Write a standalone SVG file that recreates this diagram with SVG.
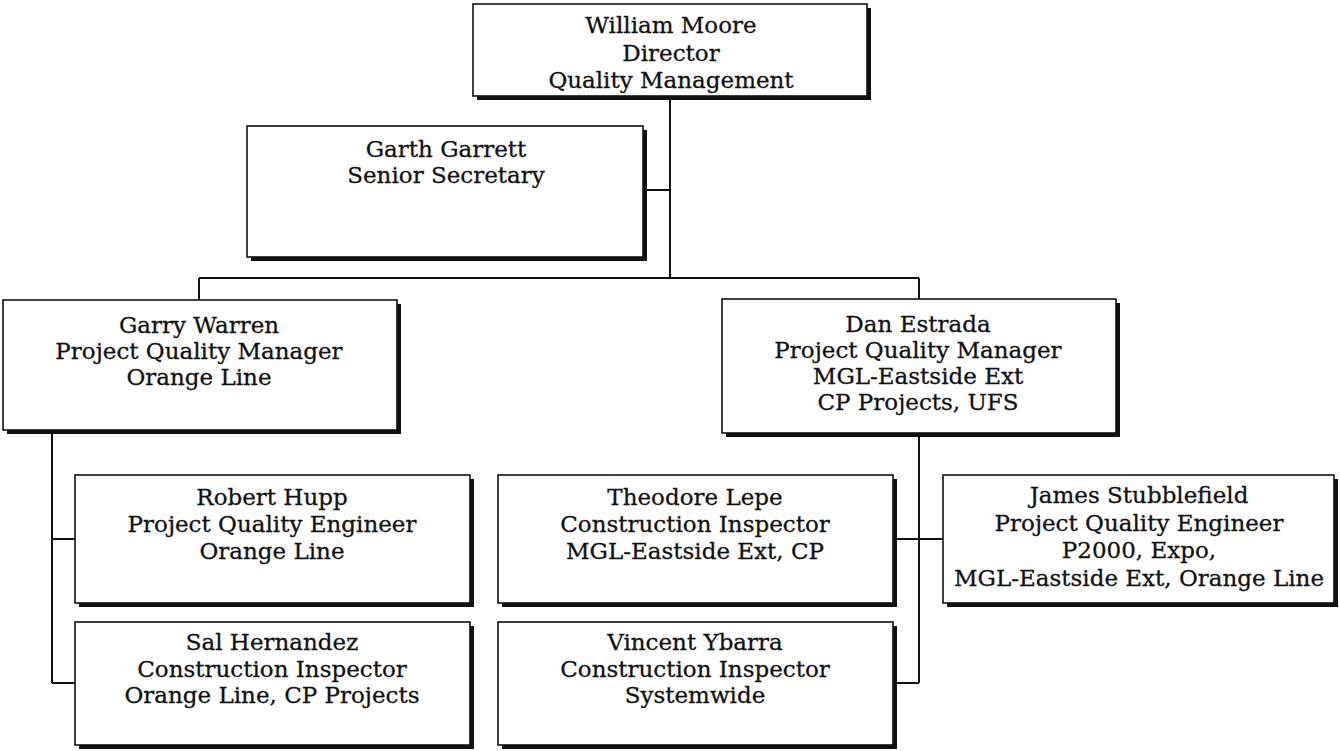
<svg xmlns="http://www.w3.org/2000/svg" width="1340" height="751" viewBox="0 0 1340 751">
<style>
.bg{fill:#ffffff}
.sh{fill:#111111}
.box{fill:#ffffff;stroke:#111111;stroke-width:1.6}
.conn{stroke:#111111;stroke-width:2;fill:none}
.t{font-family:"DejaVu Serif","Liberation Serif",serif;font-size:23px;fill:#111111;stroke:#111111;stroke-width:0.3;text-anchor:middle}
</style>
<rect class="bg" x="0" y="0" width="1340" height="751"/>
<g id="connectors">
<path class="conn" d="M670 96 V278 M643 190 H670 M199 278 H919 M199 278 V300 M919 278 V299"/>
<path class="conn" d="M52 430 V683 M52 539 H75 M52 683 H75"/>
<path class="conn" d="M919 433 V683 M893 539 H943 M893 683 H919"/>
</g>
<g id="moore">
<rect class="sh" x="477" y="8" width="394" height="92"/>
<rect class="box" x="473" y="4" width="394" height="92"/>
<text class="t" x="671" y="33">William Moore</text>
<text class="t" x="671" y="61">Director</text>
<text class="t" x="671" y="88">Quality Management</text>
</g>
<g id="garrett">
<rect class="sh" x="251" y="130" width="396" height="131"/>
<rect class="box" x="247" y="126" width="396" height="131"/>
<text class="t" x="446" y="157">Garth Garrett</text>
<text class="t" x="446" y="183">Senior Secretary</text>
</g>
<g id="warren">
<rect class="sh" x="7" y="304" width="394" height="130"/>
<rect class="box" x="3" y="300" width="394" height="130"/>
<text class="t" x="199" y="333">Garry Warren</text>
<text class="t" x="199" y="359">Project Quality Manager</text>
<text class="t" x="199" y="385">Orange Line</text>
</g>
<g id="estrada">
<rect class="sh" x="726" y="303" width="394" height="134"/>
<rect class="box" x="722" y="299" width="394" height="134"/>
<text class="t" x="918" y="332">Dan Estrada</text>
<text class="t" x="918" y="358">Project Quality Manager</text>
<text class="t" x="918" y="384">MGL-Eastside Ext</text>
<text class="t" x="918" y="410">CP Projects, UFS</text>
</g>
<g id="hupp">
<rect class="sh" x="79" y="479" width="395" height="128"/>
<rect class="box" x="75" y="475" width="395" height="128"/>
<text class="t" x="272" y="505">Robert Hupp</text>
<text class="t" x="272" y="532">Project Quality Engineer</text>
<text class="t" x="272" y="559">Orange Line</text>
</g>
<g id="hernandez">
<rect class="sh" x="79" y="626" width="395" height="123"/>
<rect class="box" x="75" y="622" width="395" height="123"/>
<text class="t" x="272" y="650">Sal Hernandez</text>
<text class="t" x="272" y="677">Construction Inspector</text>
<text class="t" x="272" y="703">Orange Line, CP Projects</text>
</g>
<g id="lepe">
<rect class="sh" x="502" y="479" width="395" height="128"/>
<rect class="box" x="498" y="475" width="395" height="128"/>
<text class="t" x="695" y="505">Theodore Lepe</text>
<text class="t" x="695" y="532">Construction Inspector</text>
<text class="t" x="695" y="559">MGL-Eastside Ext, CP</text>
</g>
<g id="ybarra">
<rect class="sh" x="502" y="626" width="395" height="123"/>
<rect class="box" x="498" y="622" width="395" height="123"/>
<text class="t" x="695" y="650">Vincent Ybarra</text>
<text class="t" x="695" y="677">Construction Inspector</text>
<text class="t" x="695" y="703">Systemwide</text>
</g>
<g id="stubblefield">
<rect class="sh" x="947" y="479" width="391" height="128"/>
<rect class="box" x="943" y="475" width="391" height="128"/>
<text class="t" x="1139" y="503">James Stubblefield</text>
<text class="t" x="1139" y="531">Project Quality Engineer</text>
<text class="t" x="1139" y="558">P2000, Expo,</text>
<text class="t" x="1139" y="586">MGL-Eastside Ext, Orange Line</text>
</g>
</svg>
